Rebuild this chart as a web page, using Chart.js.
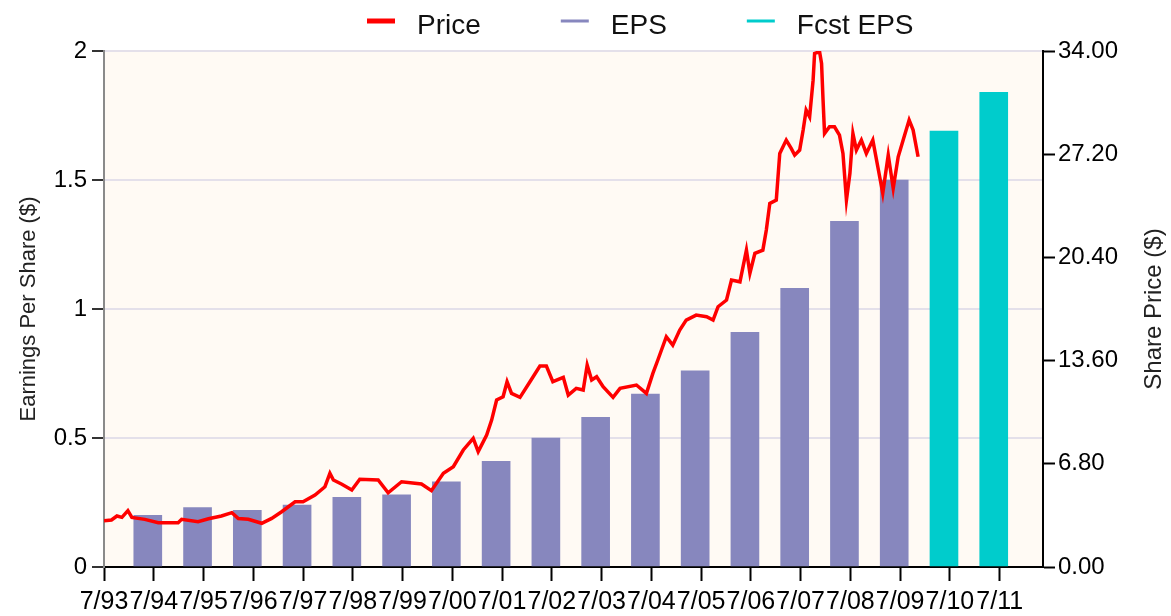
<!DOCTYPE html>
<html lang="en">
<head>
    <meta charset="UTF-8">
    <title>EPS and Share Price</title>
    <script src="https://cdn.jsdelivr.net/npm/chart.js@4.4.0/dist/chart.umd.min.js"></script>
    <style>
        html, body {
            margin: 0;
            padding: 0;
            background: #ffffff;
        }
        canvas { display: block; }
    </style>
</head>
<body>
    <canvas id="chart" width="1171" height="616"></canvas>

    <script>
        // x positions are decimal years, "7/93" = July 1993 = 1993.5
        const tickLabels = ['7/93', '7/94', '7/95', '7/96', '7/97', '7/98', '7/99', '7/00', '7/01', '7/02',
                            '7/03', '7/04', '7/05', '7/06', '7/07', '7/08', '7/09', '7/10', '7/11'];
        const tickYears = [1993.5, 1994.5, 1995.5, 1996.5, 1997.5, 1998.5, 1999.5, 2000.5, 2001.5, 2002.5,
                           2003.5, 2004.5, 2005.5, 2006.5, 2007.5, 2008.5, 2009.5, 2010.5, 2011.5];

        // fiscal year EPS (bars sit just before each July tick)
        const epsYears = [1994.38, 1995.38, 1996.38, 1997.38, 1998.38, 1999.38, 2000.38, 2001.38,
                          2002.38, 2003.38, 2004.38, 2005.38, 2006.38, 2007.38, 2008.38, 2009.38];
        const epsValues = [0.20, 0.23, 0.22, 0.24, 0.27, 0.28, 0.33, 0.41,
                           0.50, 0.58, 0.67, 0.76, 0.91, 1.08, 1.34, 1.50];
        const fcstYears = [2010.38, 2011.38];
        const fcstValues = [1.69, 1.84];

        // share price
        const priceYears = [1993.50, 1993.65, 1993.76, 1993.86, 1993.98, 1994.06, 1994.32, 1994.59, 1994.99, 1995.06,
                            1995.39, 1995.60, 1995.86, 1996.07, 1996.20, 1996.40, 1996.67, 1996.87, 1997.07, 1997.34,
                            1997.50, 1997.74, 1997.94, 1998.04, 1998.11, 1998.28, 1998.48, 1998.64, 1999.01, 1999.21,
                            1999.48, 1999.88, 2000.08, 2000.32, 2000.52, 2000.72, 2000.92, 2001.02, 2001.19, 2001.29,
                            2001.39, 2001.52, 2001.60, 2001.69, 2001.86, 2002.06, 2002.26, 2002.39, 2002.52, 2002.73,
                            2002.83, 2002.99, 2003.13, 2003.21, 2003.30, 2003.40, 2003.53, 2003.73, 2003.87, 2004.20,
                            2004.40, 2004.53, 2004.63, 2004.80, 2004.93, 2005.07, 2005.20, 2005.40, 2005.61, 2005.74,
                            2005.84, 2006.01, 2006.11, 2006.28, 2006.41, 2006.48, 2006.58, 2006.74, 2006.81, 2006.88,
                            2007.01, 2007.05, 2007.08, 2007.21, 2007.31, 2007.38, 2007.48, 2007.55, 2007.61, 2007.68,
                            2007.75, 2007.78, 2007.88, 2007.92, 2007.95, 2007.98, 2008.08, 2008.18, 2008.28, 2008.35,
                            2008.42, 2008.49, 2008.55, 2008.62, 2008.72, 2008.82, 2008.95, 2009.05, 2009.15, 2009.26,
                            2009.36, 2009.46, 2009.56, 2009.68, 2009.76, 2009.86];
        const priceValues = [3.05, 3.10, 3.36, 3.27, 3.71, 3.27, 3.14, 2.92, 2.92, 3.14,
                             2.99, 3.18, 3.36, 3.58, 3.20, 3.14, 2.88, 3.20, 3.64, 4.30,
                             4.30, 4.74, 5.29, 6.17, 5.73, 5.45, 5.07, 5.78, 5.73, 4.89,
                             5.62, 5.47, 5.03, 6.17, 6.61, 7.71, 8.48, 7.60, 8.70, 9.68,
                             11.00, 11.22, 12.21, 11.44, 11.18, 12.21, 13.24, 13.24, 12.21, 12.50,
                             11.33, 11.77, 11.66, 13.31, 12.32, 12.54, 11.88, 11.18, 11.77, 11.99,
                             11.44, 12.76, 13.64, 15.17, 14.62, 15.61, 16.27, 16.60, 16.49, 16.27,
                             17.15, 17.59, 18.91, 18.79, 20.88, 19.35, 20.67, 20.88, 22.20, 23.96,
                             24.18, 25.94, 27.25, 28.13, 27.58, 27.14, 27.47, 28.79, 30.10, 29.66,
                             32.08, 33.84, 33.95, 33.18, 30.76, 28.57, 29.01, 29.01, 28.46, 27.25,
                             24.18, 25.94, 28.57, 27.47, 28.13, 27.25, 28.13, 26.37, 24.62, 27.14,
                             24.95, 27.03, 28.13, 29.45, 28.79, 27.03];

        const epsTicks = [0, 0.5, 1, 1.5, 2];
        const priceTicks = [0, 6.8, 13.6, 20.4, 27.2, 34];

        const FONT = '"Liberation Sans", Arial, sans-serif';

        function toPoints(xs, ys) {
            return xs.map((x, i) => ({ x: x, y: ys[i] }));
        }

        // cream plot background
        const plotBackground = {
            id: 'plotBackground',
            beforeDraw(chart) {
                const a = chart.chartArea;
                const ctx = chart.ctx;
                ctx.save();
                ctx.fillStyle = '#fffaf4';
                ctx.fillRect(a.left, a.top, a.right - a.left, a.bottom - a.top);
                ctx.restore();
            }
        };

        // legend drawn as short line samples, like the original
        const lineLegend = {
            id: 'lineLegend',
            afterDraw(chart) {
                const ctx = chart.ctx;
                ctx.save();
                ctx.font = '28px ' + FONT;
                ctx.textBaseline = 'alphabetic';
                let x = 367;
                chart.data.datasets.forEach(ds => {
                    const isLine = ds.type === 'line';
                    ctx.strokeStyle = isLine ? ds.borderColor : ds.backgroundColor;
                    ctx.lineWidth = isLine ? 5 : 3;
                    ctx.beginPath();
                    ctx.moveTo(x, 21);
                    ctx.lineTo(x + 28, 21);
                    ctx.stroke();
                    ctx.fillStyle = '#111';
                    ctx.fillText(ds.label, x + 50, 34);
                    x += 50 + ctx.measureText(ds.label).width + 80;
                });
                ctx.restore();
            }
        };

        // right axis title reads bottom-to-top in the original
        const rightTitle = {
            id: 'rightTitle',
            afterDraw(chart) {
                const s = chart.scales.y1;
                const a = chart.chartArea;
                const ctx = chart.ctx;
                ctx.save();
                ctx.translate(s.right - 17, (a.top + a.bottom) / 2);
                ctx.rotate(-Math.PI / 2);
                ctx.font = '24px ' + FONT;
                ctx.fillStyle = '#222';
                ctx.textAlign = 'center';
                ctx.textBaseline = 'middle';
                ctx.fillText('Share Price ($)', 0, 0);
                ctx.restore();
            }
        };

        const ctx = document.getElementById('chart').getContext('2d');
        const chart = new Chart(ctx, {
            type: 'bar',
            data: {
                datasets: [
                    {
                        type: 'line',
                        label: 'Price',
                        data: toPoints(priceYears, priceValues),
                        xAxisID: 'x',
                        yAxisID: 'y1',
                        borderColor: '#ff0000',
                        borderWidth: 3.5,
                        pointRadius: 0,
                        tension: 0,
                        fill: false,
                        order: 0
                    },
                    {
                        type: 'bar',
                        label: 'EPS',
                        data: toPoints(epsYears, epsValues),
                        xAxisID: 'x',
                        yAxisID: 'y',
                        backgroundColor: '#8787be',
                        borderWidth: 0,
                        barThickness: 28,
                        grouped: false,
                        order: 1
                    },
                    {
                        type: 'bar',
                        label: 'Fcst EPS',
                        data: toPoints(fcstYears, fcstValues),
                        xAxisID: 'x',
                        yAxisID: 'y',
                        backgroundColor: '#00cccc',
                        borderWidth: 0,
                        barThickness: 28,
                        grouped: false,
                        order: 2
                    }
                ]
            },
            options: {
                responsive: false,
                animation: false,
                devicePixelRatio: 1,
                layout: { padding: { top: 51, left: 0, right: 0, bottom: 0 } },
                plugins: {
                    legend: { display: false },
                    tooltip: { enabled: false }
                },
                scales: {
                    x: {
                        type: 'linear',
                        position: 'bottom',
                        min: 1993.5,
                        max: 2012.37,
                        offset: false,
                        afterBuildTicks: s => { s.ticks = tickYears.map(v => ({ value: v })); },
                        afterFit: s => { s.height = 49; },
                        ticks: {
                            autoSkip: false,
                            maxRotation: 0,
                            minRotation: 0,
                            padding: 6,
                            color: '#000',
                            font: { family: FONT, size: 25 },
                            callback: (v, i) => tickLabels[i]
                        },
                        grid: {
                            drawOnChartArea: false,
                            offset: false,
                            tickLength: 14,
                            tickColor: '#000',
                            tickWidth: 2
                        },
                        border: { color: '#000', width: 2 }
                    },
                    y: {
                        position: 'left',
                        min: 0,
                        max: 2,
                        afterBuildTicks: s => { s.ticks = epsTicks.map(v => ({ value: v })); },
                        afterFit: s => { s.width = 104; },
                        ticks: {
                            padding: 5,
                            color: '#000',
                            font: { family: FONT, size: 24 },
                            callback: v => String(v)
                        },
                        grid: {
                            color: '#e4e0ea',
                            lineWidth: 2,
                            tickColor: '#333',
                            tickLength: 12,
                            tickWidth: 2
                        },
                        border: { color: '#8a8a8a', width: 2 },
                        title: {
                            display: true,
                            text: 'Earnings Per Share ($)',
                            color: '#222',
                            font: { family: FONT, size: 22 },
                            padding: { top: 16, bottom: 0 }
                        }
                    },
                    y1: {
                        position: 'right',
                        min: 0,
                        max: 34,
                        afterBuildTicks: s => { s.ticks = priceTicks.map(v => ({ value: v })); },
                        afterFit: s => { s.width = 128; },
                        ticks: {
                            padding: 3,
                            color: '#000',
                            font: { family: FONT, size: 24 },
                            callback: v => v.toFixed(2)
                        },
                        grid: {
                            drawOnChartArea: false,
                            tickColor: '#000',
                            tickLength: 12,
                            tickWidth: 2
                        },
                        border: { color: '#000', width: 2 }
                    }
                }
            },
            plugins: [plotBackground, lineLegend, rightTitle]
        });
    </script>
</body>
</html>
